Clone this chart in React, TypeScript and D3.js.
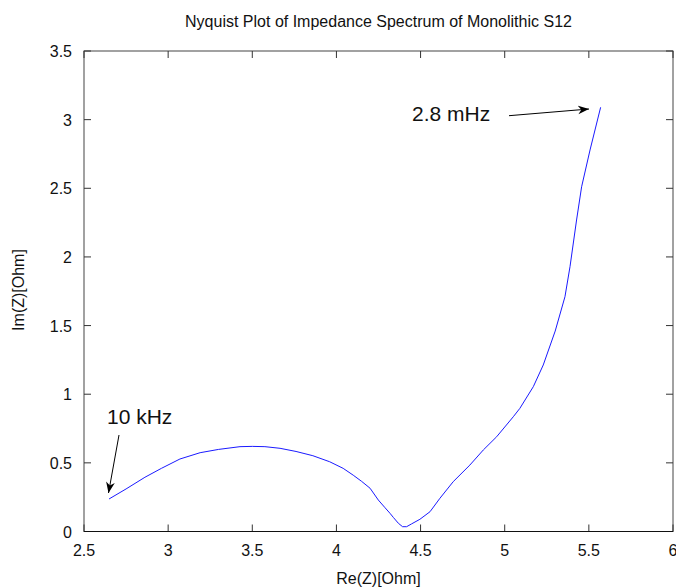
import React from "react";
import * as d3 from "d3";

const reZ = [2.649, 2.75, 2.862, 2.96, 3.07, 3.19, 3.3, 3.427, 3.5, 3.575, 3.665, 3.76, 3.86, 3.96, 4.04, 4.1, 4.15, 4.2, 4.249, 4.289, 4.318, 4.338, 4.368, 4.393, 4.417, 4.446, 4.496, 4.556, 4.615, 4.694, 4.793, 4.873, 4.952, 5.051, 5.09, 5.17, 5.229, 5.3, 5.358, 5.388, 5.427, 5.457, 5.507, 5.57];
const imZ = [0.237, 0.31, 0.395, 0.46, 0.528, 0.574, 0.598, 0.618, 0.62, 0.618, 0.606, 0.583, 0.552, 0.508, 0.46, 0.41, 0.365, 0.315, 0.229, 0.173, 0.133, 0.103, 0.06, 0.035, 0.035, 0.055, 0.089, 0.144, 0.242, 0.363, 0.484, 0.594, 0.69, 0.836, 0.897, 1.055, 1.213, 1.46, 1.71, 1.929, 2.269, 2.511, 2.779, 3.09];
const xTicks = [2.5, 3, 3.5, 4, 4.5, 5, 5.5, 6];
const yTicks = [0, 0.5, 1, 1.5, 2, 2.5, 3, 3.5];

const W = 676, H = 587;
const L = 84, R = 673, T = 51, B = 531.5;

export default function App() {
  const x = d3.scaleLinear().domain([2.5, 6]).range([L, R]);
  const y = d3.scaleLinear().domain([0, 3.5]).range([B, T]);
  const pts = reZ.map((v, i) => [v, imZ[i]] as [number, number]);
  const line = d3.line<[number, number]>().x(d => x(d[0])).y(d => y(d[1]));
  const font = "Arial, 'Liberation Sans', sans-serif";
  const tl = 7;
  return (
    <svg width={W} height={H} style={{ position: "absolute", left: 0, top: 0, background: "#fff" }} fontFamily={font}>
      <defs>
        <marker id="ah" viewBox="0 0 10 10" refX="10" refY="5" markerWidth="11" markerHeight="11" orient="auto" markerUnits="userSpaceOnUse">
          <path d="M0,1 L10,5 L0,9 L3,5 Z" fill="#000" />
        </marker>
      </defs>
      <text x={378.5} y={27} fontSize={16} textAnchor="middle" fill="#111">Nyquist Plot of Impedance Spectrum of Monolithic S12</text>
      <rect x={L} y={T} width={R - L} height={B - T} fill="none" stroke="#444" strokeWidth={1} />
      {xTicks.map(t => (
        <g key={"x" + t}>
          <line x1={x(t)} x2={x(t)} y1={B} y2={B - tl} stroke="#333" />
          <line x1={x(t)} x2={x(t)} y1={T} y2={T + tl} stroke="#333" />
          <text x={x(t)} y={556} fontSize={16} textAnchor="middle" fill="#111">{t}</text>
        </g>
      ))}
      {yTicks.map(t => (
        <g key={"y" + t}>
          <line x1={L} x2={L + tl} y1={y(t)} y2={y(t)} stroke="#333" />
          <line x1={R} x2={R - tl} y1={y(t)} y2={y(t)} stroke="#333" />
          <text x={72} y={y(t) + 6} fontSize={16} textAnchor="end" fill="#111">{t}</text>
        </g>
      ))}
      <line x1={L} x2={R} y1={B} y2={B} stroke="#111" strokeWidth={1.2} />
      <path d={line(pts) || ""} fill="none" stroke="#1a1aff" strokeWidth={1} />
      <text x={378.5} y={584} fontSize={16} textAnchor="middle" fill="#111">Re(Z)[Ohm]</text>
      <text transform={`translate(24,290) rotate(-90)`} fontSize={16} textAnchor="middle" fill="#111">Im(Z)[Ohm]</text>
      <text x={412} y={121} fontSize={21} fill="#111">2.8 mHz</text>
      <line x1={509} y1={115.7} x2={589} y2={109} stroke="#000" strokeWidth={1} markerEnd="url(#ah)" />
      <text x={107} y={424} fontSize={21} fill="#111">10 kHz</text>
      <line x1={119} y1={435} x2={108.5} y2={493} stroke="#000" strokeWidth={1} markerEnd="url(#ah)" />
    </svg>
  );
}
